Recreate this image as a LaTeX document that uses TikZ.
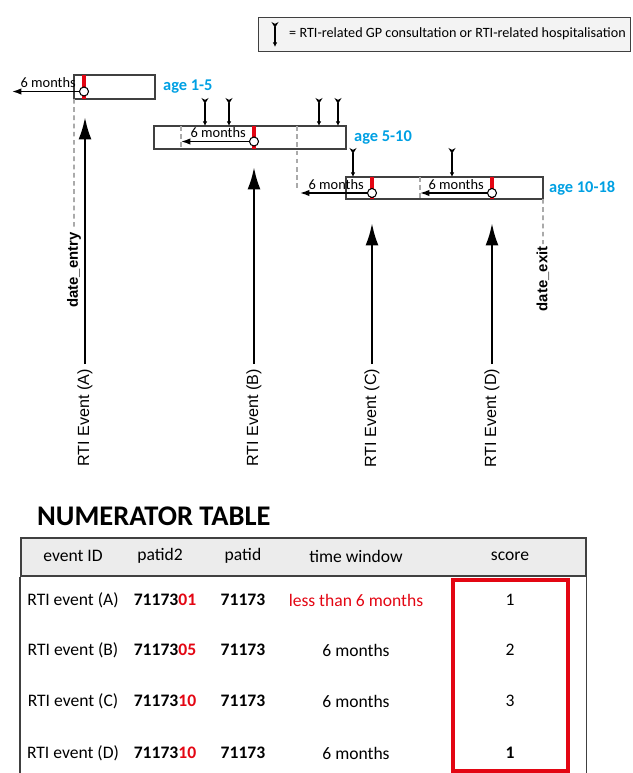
\documentclass[tikz,border=0pt]{standalone}
\usepackage{fontspec}
\setmainfont{Carlito}
\newfontfamily\arialfam{Liberation Sans}
\usepackage{tikz}
\usetikzlibrary{arrows.meta, positioning, calc}
\definecolor{marco}{RGB}{64,64,64}
\definecolor{celeste}{RGB}{0,160,227}
\definecolor{rojo}{RGB}{227,6,19}
\definecolor{guiagris}{RGB}{170,170,170}
\definecolor{cabecera}{RGB}{236,236,236}
\definecolor{leyenda}{RGB}{243,243,243}
\tikzset{
  agebox/.style={rectangle, draw=marco, line width=1.1pt, inner sep=0pt, outer sep=0pt},
  agelabel/.style={text=celeste, font=\fontsize{14}{16}\selectfont\bfseries, inner sep=0pt},
  marca/.style={circle, draw=black, fill=white, line width=0.9pt, minimum size=0.27cm, inner sep=0pt},
  barra/.style={rojo, line width=3pt},
  seis/.style={-{Latex[length=8pt, width=5.5pt]}, line width=1.2pt},
  mesestxt/.style={font=\fontsize{12.3}{14}\selectfont, inner sep=0pt, anchor=south east},
  consulta/.style={{Stealth[reversed, length=5pt, width=6pt]}-{Latex[length=4pt, width=4pt]}, line width=0.9pt},
  evento/.style={-{Latex[length=19pt, width=11pt]}, line width=2.2pt},
  evtxt/.style={rotate=90, anchor=east, font=\arialfam\fontsize{13.8}{15}\selectfont, inner sep=4pt},
  fechatxt/.style={rotate=90, anchor=east, font=\arialfam\bfseries\fontsize{12.7}{14}\selectfont, inner sep=2pt},
  guia/.style={guiagris, line width=1.3pt, dash pattern=on 4pt off 3pt},
  celda/.style={font=\fontsize{15}{17}\selectfont, inner sep=0pt}
}
\begin{document}
\begin{tikzpicture}[x=0.03cm, y=-0.03cm, node distance=0.24cm]
  \useasboundingbox (0,0) rectangle (632,773);
  \node[rectangle, draw=marco, fill=leyenda, line width=1.1pt, anchor=north west,
        minimum width=11.16cm, minimum height=1.02cm] (ley) at (258,17) {};
  \coordinate (icoA) at (275,22);
  \coordinate (icoB) at (275,47);
  \draw[consulta] (icoA) -- (icoB);
  \node[font=\fontsize{12.1}{14}\selectfont, anchor=west, inner sep=0pt] (leytxt) at (289,34)
    {= RTI-related GP consultation or RTI-related hospitalisation};

  \node[agebox, minimum width=2.43cm, minimum height=0.72cm] (b1) at (114.5,87) {};
  \node[agebox, minimum width=5.76cm, minimum height=0.69cm] (b2) at (250,137.5) {};
  \node[agebox, minimum width=5.91cm, minimum height=0.66cm] (b3) at (444.5,188) {};
  \node[agelabel, right=of b1] (a1) {age 1-5};
  \node[agelabel, right=of b2] (a2) {age 5-10};
  \node[agelabel, right=0.18cm of b3] (a3) {age 10-18};

  \coordinate (e1) at (12,91.5);
  \coordinate (e2) at (181,141.5);
  \coordinate (e3) at (300,193);
  \coordinate (e4) at (420,193);
  \coordinate (g2) at (297,188);
  \draw[guia] (e2 |- b2.north) -- (e2 |- b2.south);
  \draw[guia] (g2 |- b2.north) -- (g2);
  \draw[guia] (e4 |- b3.north) -- (e4 |- b3.south);

  \coordinate (p1) at (84,91.5);
  \coordinate (p2) at (254,141.5);
  \coordinate (p3) at (372,193);
  \coordinate (p4) at (492,193);
  \draw[barra] (p1 |- b1.north) -- (p1 |- b1.south);
  \draw[barra] (p2 |- b2.north) -- (p2 |- b2.south);
  \draw[barra] (p3 |- b3.north) -- (p3 |- b3.south);
  \draw[barra] (p4 |- b3.north) -- (p4 |- b3.south);
  \node[marca] (c1) at (p1) {};
  \node[marca] (c2) at (p2) {};
  \node[marca] (c3) at (p3) {};
  \node[marca] (c4) at (p4) {};
  \draw[seis] (c1) -- (e1);
  \draw[seis] (c2) -- (e2);
  \draw[seis] (c3) -- (e3);
  \draw[seis] (c4) -- (e4);
  \node[mesestxt] (m1) at ($(c1.west)+(-3,-3.5)$) {6 months};
  \node[mesestxt] (m2) at ($(c2.west)+(-3,-3.5)$) {6 months};
  \node[mesestxt] (m3) at ($(c3.west)+(-3,-3.5)$) {6 months};
  \node[mesestxt] (m4) at ($(c4.west)+(-3,-3.5)$) {6 months};

  \foreach \d in {51,75,165,184}
    \draw[consulta] ([xshift=\d*0.03cm, yshift=0.84cm]b2.north west) -- ([xshift=\d*0.03cm]b2.north west);
  \foreach \d in {7,106}
    \draw[consulta] ([xshift=\d*0.03cm, yshift=0.87cm]b3.north west) -- ([xshift=\d*0.03cm]b3.north west);

  \node[fechatxt] (dent) at (74,230) {date\_entry};
  \node[fechatxt] (dexit) at (543,244) {date\_exit};
  \draw[guia] (b1.south west) -- (dent.east);
  \draw[guia] (b3.south east) -- (dexit.east);

  \node[evtxt] (evA) at (85,364) {RTI Event (A)};
  \node[evtxt] (evB) at (254,364) {RTI Event (B)};
  \node[evtxt] (evC) at (372,364) {RTI Event (C)};
  \node[evtxt] (evD) at (492,364) {RTI Event (D)};
  \coordinate (tA) at (85,117);
  \coordinate (tB) at (254,167);
  \coordinate (tC) at (372,223);
  \coordinate (tD) at (492,223);
  \draw[evento] (evA.east) -- (tA);
  \draw[evento] (evB.east) -- (tB);
  \draw[evento] (evC.east) -- (tC);
  \draw[evento] (evD.east) -- (tD);

  \node[font=\fontsize{24.3}{27}\selectfont\bfseries, anchor=west, inner sep=0pt] (titulo) at (37,516) {NUMERATOR TABLE};
  \node[rectangle, draw=marco, fill=cabecera, line width=1.3pt, anchor=north west, inner sep=0pt,
        minimum width=16.95cm, minimum height=1.14cm] (cab) at (20,537) {};
  \coordinate (fondo) at (0,780);
  \draw[marco, line width=1.3pt] (cab.south west) -- (cab.south west |- fondo);
  \draw[marco, line width=1.3pt] (cab.south east) -- (cab.south east |- fondo);
  \node[celda] (hID) at (73,556) {event ID};
  \node[celda] (hP2) at (160,556) {patid2};
  \node[celda] (hP) at (243,556) {patid};
  \node[celda] (hTW) at (356,556) {time window};
  \node[celda] (hSc) at (510,556) {score};

  \node[celda] (r1id) at (73,600) {RTI event (A)};
  \node[celda] (r1p2) at (165,600) {\textbf{71173\textcolor{rojo}{01}}};
  \node[celda] (r1p) at (243,600) {\textbf{71173}};
  \node[celda, text=rojo] (r1tw) at (356,600) {less than 6 months};
  \node[celda] (r1sc) at (510,600) {1};
  \node[celda] (r2id) at (73,650) {RTI event (B)};
  \node[celda] (r2p2) at (165,650) {\textbf{71173\textcolor{rojo}{05}}};
  \node[celda] (r2p) at (243,650) {\textbf{71173}};
  \node[celda] (r2tw) at (356,650) {6 months};
  \node[celda] (r2sc) at (510,650) {2};
  \node[celda] (r3id) at (73,701) {RTI event (C)};
  \node[celda] (r3p2) at (165,701) {\textbf{71173\textcolor{rojo}{10}}};
  \node[celda] (r3p) at (243,701) {\textbf{71173}};
  \node[celda] (r3tw) at (356,701) {6 months};
  \node[celda] (r3sc) at (510,701) {3};
  \node[celda] (r4id) at (73,753) {RTI event (D)};
  \node[celda] (r4p2) at (165,753) {\textbf{71173\textcolor{rojo}{10}}};
  \node[celda] (r4p) at (243,753) {\textbf{71173}};
  \node[celda] (r4tw) at (356,753) {6 months};
  \node[celda] (r4sc) at (510,753) {\textbf{1}};
  \node[rectangle, draw=rojo, line width=3.4pt, minimum width=3.45cm, minimum height=5.73cm] (sel) at (510.5,675.5) {};
\end{tikzpicture}
\end{document}
